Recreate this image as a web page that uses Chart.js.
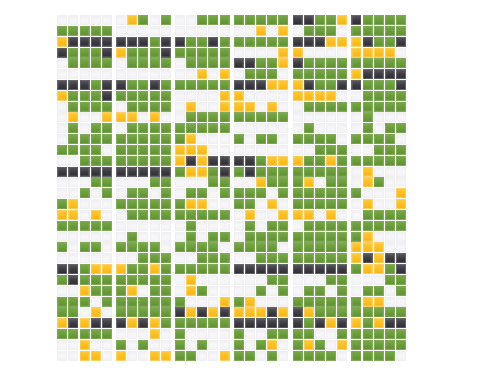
<!DOCTYPE html>
<html>
<head>
<meta charset="utf-8">
<style>
  html, body { margin: 0; padding: 0; background: #fff; }
  canvas { display: block; }
</style>
<script src="https://cdn.jsdelivr.net/npm/chart.js@4/dist/chart.umd.min.js"></script>
</head>
<body>
<canvas id="grid" width="500" height="375"></canvas>
<script>
// w = empty, g = ok, y = warning, k = down
const statusCodes = ["w", "g", "y", "k"];
const statusNames = ["Empty", "Ok", "Warning", "Down"];
const cellRows = [
  "wwwwwwygwgwwggg" + "gggggkkggykgggg",
  "gggggwwwwwwwwww" + "wwywywgggwggggg",
  "ykkkkkkkgkkggkg" + "gggggkkkyyykggk",
  "kgggkygggkggggg" + "wwwwyywwwwyyyyw",
  "wggggwggggwgggg" + "kkggykggggggggg",
  "wwwwwwwwwwwwywy" + "wgggwgggggykkkk",
  "kkkgkkggkgggggg" + "kkkyyykggkkgggk",
  "ygggkgggggwwwwy" + "ywwwwyyyywwgggg",
  "wggggwggggwywwy" + "yywywwggggggggg",
  "wywwyyywywwgggg" + "gggggwwwwwwgwww",
  "wgwggwggggggggg" + "wwwwwwgwwwwgwgg",
  "wggggggggggywww" + "gwggwggggwggggw",
  "ggggwgggggyyyww" + "wwwwwwwgggwwggg",
  "wwggggggggykykk" + "kkgyyyggygggggg",
  "kkkkkkkkkkgyygk" + "gkggggggggwywww",
  "wwwggwwwggwwwgg" + "wwygggywggwygww",
  "wwgwgwggwgwggwg" + "gggwgggggggwwwy",
  "gywwwggggggyyww" + "ggwywgggggwywwy",
  "yywywwggggggggg" + "wywwyyywywwgggg",
  "gggggwwwwwwgwww" + "wgwggwggggggggg",
  "wwwwwwgwwwwgwgg" + "wggggggggggywww",
  "gwggwggggwggggw" + "ggggwgggggyyyww",
  "wwwwwwwgggwwggg" + "wwggggggggykykk",
  "kkgyyyggygggggg" + "kkkkkkkkkkgyygk",
  "gkggggggggwywww" + "wwwggwwwggwwwgg",
  "wwygggywggwygww" + "wwgwgwggwgwggwg",
  "gggwgggggggwwwy" + "gywwwggggggyyww",
  "ggwywgggggkykyk" + "yyykykygggggggg",
  "ykykkkykygggggg" + "kkkkkkgkykygykk",
  "gggggwwwywgwwww" + "gwwggggwwgggggg",
  "wwywwgwgwwgwgww" + "gwgywgygwyggggg",
  "wwyywywwyyggwwy" + "ggwgwggggwggggw"
];

const tileW = 10;
const tileH = 10;

// glossy little square, drawn once per status and used as the point style
function makeTile(top, mid, bottom, edge) {
  const c = document.createElement("canvas");
  c.width = tileW;
  c.height = tileH;
  const g = c.getContext("2d");
  const grad = g.createLinearGradient(0, 0, 0, tileH);
  grad.addColorStop(0, top);
  grad.addColorStop(0.5, mid);
  grad.addColorStop(1, bottom);
  g.fillStyle = grad;
  g.fillRect(0, 0, tileW, tileH);
  g.strokeStyle = edge;
  g.strokeRect(0.5, 0.5, tileW - 1, tileH - 1);
  return c;
}

const tiles = [
  makeTile("#efeff2", "#f8f8fa", "#f2f2f5", "#f0f0f3"),
  makeTile("#7aa94a", "#6b9e39", "#5d9030", "#80aa5a"),
  makeTile("#ffcc33", "#fdbf1f", "#f9b414", "#fbcf62"),
  makeTile("#5a595f", "#3d3c42", "#2e2d33", "#66656b")
];

function colX(col) {
  return col + Math.floor(col / 5) * 0.28;
}

const datasets = statusCodes.map((code, s) => {
  const points = [];
  cellRows.forEach((row, r) => {
    row.split("").forEach((cell, col) => {
      if (cell === code) points.push({ x: colX(col), y: r });
    });
  });
  return {
    label: statusNames[s],
    data: points,
    pointStyle: tiles[s],
    pointRadius: 5,
    showLine: false
  };
});

new Chart(document.getElementById("grid").getContext("2d"), {
  type: "scatter",
  data: { datasets },
  options: {
    responsive: false,
    animation: false,
    layout: { padding: { left: 56.7, right: 93.4, top: 14.6, bottom: 13.8 } },
    plugins: { legend: { display: false }, tooltip: { enabled: false } },
    scales: {
      x: { display: false, min: -0.5, max: 29.5 + 5 * 0.28 },
      y: { display: false, min: -0.5, max: 31.5, reverse: true }
    }
  }
});
</script>
</body>
</html>
